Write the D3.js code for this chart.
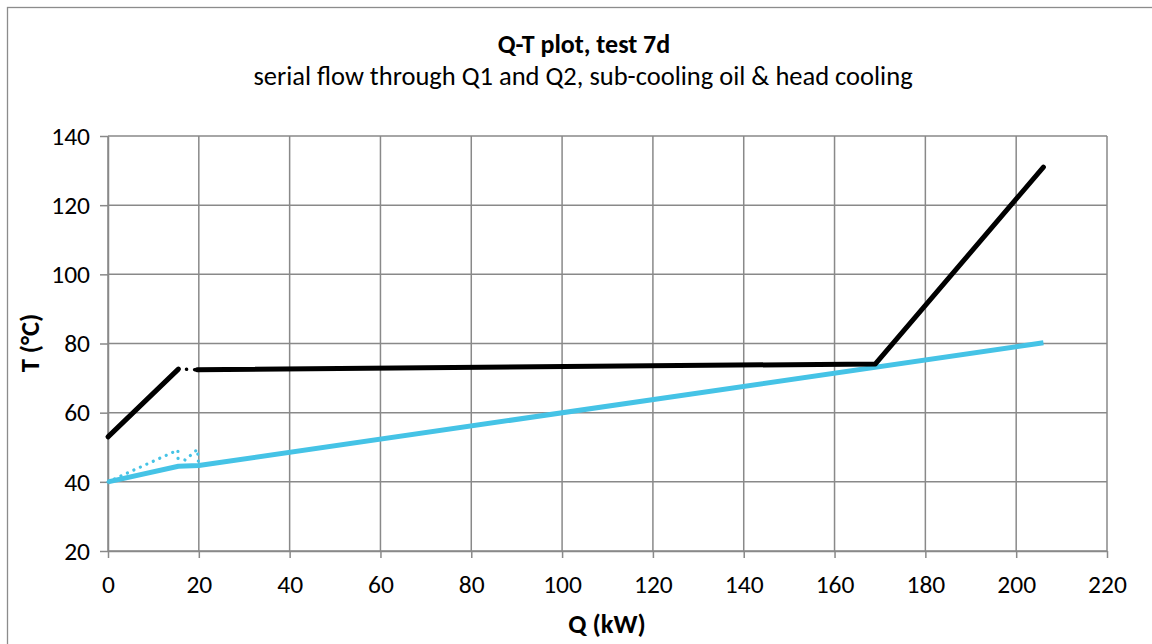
<!DOCTYPE html>
<html><head><meta charset="utf-8">
<script src="https://cdn.jsdelivr.net/npm/d3@7"></script>
<style>body{margin:0;background:#fff;} svg{display:block;} text{font-family:Carlito,Calibri,Lato,"Open Sans","Liberation Sans",sans-serif;}</style>
</head><body>
<svg id="c" width="1152" height="644"></svg>
<script>
const titleText = "Q-T plot, test 7d";
const subtitleText = "serial flow through Q1 and Q2, sub-cooling oil & head cooling";
const xLabel = "Q (kW)";
const yLabel = "T (°C)";
const xTicks = [0,20,40,60,80,100,120,140,160,180,200,220];
const yTicks = [20,40,60,80,100,120,140];

// hot side (black)
const hotQ1 = [0, 15.5];
const hotT1 = [53, 72.6];
const hotGapQ = [15.5, 20];
const hotGapT = [72.6, 72.4];
const hotQ2 = [19.6, 169, 206];
const hotT2 = [72.4, 74.1, 131];
// cold side (blue)
const coldQ = [0, 15.5, 20, 206];
const coldT = [40, 44.5, 44.7, 80.2];
const coldDotQ = [0, 15.4, 15.4, 17, 19.7, 19.9];
const coldDotT = [40, 49.2, 46.8, 46.3, 49.4, 45.8];

const FONT = 'Carlito,Calibri,Lato,"Open Sans","Liberation Sans",sans-serif';
const svg = d3.select("#c");
const m = {l:108, r:1107, t:136, b:551};
const x = d3.scaleLinear().domain([0,220]).range([m.l, m.r]);
const y = d3.scaleLinear().domain([20,140]).range([m.b, m.t]);

svg.append("rect").attr("x",7.5).attr("y",7.5).attr("width",1160).attr("height",660)
  .attr("fill","none").attr("stroke","#8c8c8c").attr("stroke-width",1.3);

const grid = svg.append("g");
xTicks.forEach(v=>grid.append("line").attr("x1",x(v)).attr("x2",x(v)).attr("y1",m.t).attr("y2",m.b)
  .attr("stroke","#898989").attr("stroke-width",1.5));
yTicks.forEach(v=>grid.append("line").attr("x1",m.l).attr("x2",m.r).attr("y1",y(v)).attr("y2",y(v))
  .attr("stroke","#898989").attr("stroke-width",1.5));

const xa = svg.append("g").attr("transform",`translate(0,${m.b})`)
  .call(d3.axisBottom(x).tickValues(xTicks).tickSize(7).tickSizeOuter(0));
const ya = svg.append("g").attr("transform",`translate(${m.l},0)`)
  .call(d3.axisLeft(y).tickValues(yTicks).tickSize(8).tickPadding(10).tickSizeOuter(0));
[xa,ya].forEach(a=>{
  a.attr("font-size",25.5).attr("font-family",FONT);
  a.select(".domain").attr("stroke","#898989").attr("stroke-width",1.5);
  a.selectAll(".tick line").attr("stroke","#898989").attr("stroke-width",1.5);
  a.selectAll(".tick text").attr("fill","#000");
});
xa.selectAll(".tick text").attr("dy",null).attr("y",42);

const line = d3.line().x(d=>x(d[0])).y(d=>y(d[1]));
const zip = (a,b)=>a.map((v,i)=>[v,b[i]]);

svg.append("path").attr("d",line(zip(coldDotQ,coldDotT))).attr("fill","none")
  .attr("stroke","#45c3e6").attr("stroke-width",3.2).attr("stroke-dasharray","0.1,7").attr("stroke-linecap","round");
svg.append("path").attr("d",line(zip(coldQ,coldT))).attr("fill","none")
  .attr("stroke","#45c3e6").attr("stroke-width",5).attr("stroke-linejoin","round");
svg.append("path").attr("d",line(zip(hotGapQ,hotGapT))).attr("fill","none")
  .attr("stroke","#000").attr("stroke-width",3.5).attr("stroke-dasharray","0.1,8").attr("stroke-linecap","round");
svg.append("path").attr("d",line(zip(hotQ1,hotT1))).attr("fill","none")
  .attr("stroke","#000").attr("stroke-width",5).attr("stroke-linecap","round");
svg.append("path").attr("d",line(zip(hotQ2,hotT2))).attr("fill","none")
  .attr("stroke","#000").attr("stroke-width",5).attr("stroke-linecap","round").attr("stroke-linejoin","round");

svg.append("text").attr("x",584).attr("y",53).attr("text-anchor","middle")
  .attr("font-size",26).attr("font-weight","bold").text(titleText);
svg.append("text").attr("x",583).attr("y",85).attr("text-anchor","middle")
  .attr("font-size",26.5).text(subtitleText);
svg.append("text").attr("x",607).attr("y",633).attr("text-anchor","middle")
  .attr("font-size",26.5).attr("font-weight","bold").text(xLabel);
svg.append("text").attr("transform","translate(39,343) rotate(-90)").attr("text-anchor","middle")
  .attr("font-size",26.5).attr("font-weight","bold").text(yLabel);
</script>
</body></html>
